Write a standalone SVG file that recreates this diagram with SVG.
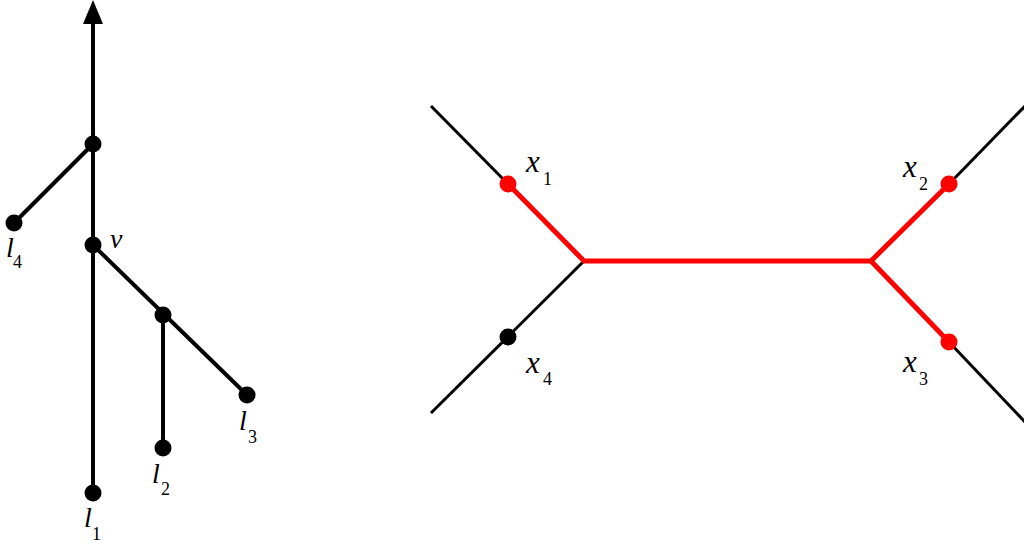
<svg xmlns="http://www.w3.org/2000/svg" width="1024" height="546" viewBox="0 0 1024 546">
<defs>
<style>
.e{stroke:#000;stroke-width:4;fill:none}
.b{stroke:#000;stroke-width:3;fill:none}
.r{stroke:#f00;stroke-width:5;fill:none}
.d{fill:#000}
.rd{fill:#f00}
</style>
</defs>
<rect width="1024" height="546" fill="#fff"/>
<g id="connectors">
<line class="e" x1="93" y1="493" x2="93" y2="20"/>
<polygon points="93,0 83,24 103,24" fill="#000"/>
<line class="e" x1="93" y1="144" x2="14" y2="223"/>
<line class="e" x1="93" y1="245" x2="247" y2="395"/>
<line class="e" x1="163" y1="315" x2="163" y2="448"/>
<line class="b" x1="431" y1="106" x2="508" y2="184"/>
<line class="b" x1="584" y1="261" x2="431" y2="413"/>
<line class="b" x1="949" y1="184" x2="1025" y2="106"/>
<line class="b" x1="949" y1="342" x2="1025" y2="422"/>
<polyline class="r" points="508,184 584,261 871,261 949,184"/>
<line class="r" x1="871" y1="261" x2="949" y2="342"/>
</g>
<g font-family="Liberation Serif, serif" fill="#000">
<g id="n_top"><circle class="d" cx="93" cy="144" r="8.5"/></g>
<g id="n_l4"><circle class="d" cx="14" cy="223" r="8.5"/><text font-style="italic" font-size="28" x="6" y="257">l</text><text font-size="18" x="13" y="268">4</text></g>
<g id="n_v"><circle class="d" cx="93" cy="245" r="8.5"/><text font-style="italic" font-size="28" x="110" y="248">v</text></g>
<g id="n_mid"><circle class="d" cx="163" cy="315" r="8.5"/></g>
<g id="n_l3"><circle class="d" cx="247" cy="395" r="8.5"/><text font-style="italic" font-size="28" x="239" y="430">l</text><text font-size="18" x="248" y="443">3</text></g>
<g id="n_l2"><circle class="d" cx="163" cy="448" r="8.5"/><text font-style="italic" font-size="28" x="152" y="483">l</text><text font-size="18" x="161" y="495">2</text></g>
<g id="n_l1"><circle class="d" cx="93" cy="493" r="8.5"/><text font-style="italic" font-size="28" x="84" y="527">l</text><text font-size="18" x="92" y="540">1</text></g>
<g id="n_x1"><circle class="rd" cx="508" cy="184" r="8.5"/><text font-style="italic" font-size="31" x="526" y="172">x</text><text font-size="18" x="543" y="185">1</text></g>
<g id="n_x4"><circle class="d" cx="508" cy="337" r="8.5"/><text font-style="italic" font-size="31" x="526" y="373">x</text><text font-size="18" x="543" y="385">4</text></g>
<g id="n_x2"><circle class="rd" cx="949" cy="184" r="8.5"/><text font-style="italic" font-size="31" x="903" y="177">x</text><text font-size="18" x="919" y="190">2</text></g>
<g id="n_x3"><circle class="rd" cx="949" cy="342" r="8.5"/><text font-style="italic" font-size="31" x="903" y="372">x</text><text font-size="18" x="919" y="385">3</text></g>
</g>
</svg>
